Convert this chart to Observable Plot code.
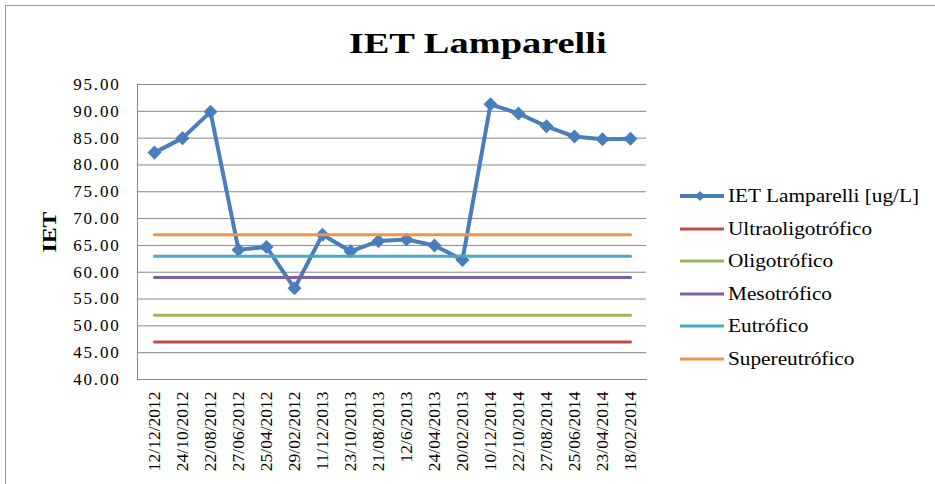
<!DOCTYPE html>
<html>
<head>
<meta charset="utf-8">
<script src="https://cdn.jsdelivr.net/npm/d3@7"></script>
<script src="https://cdn.jsdelivr.net/npm/@observablehq/plot@0.6"></script>
<style>
  html, body { margin: 0; padding: 0; background: #fff; overflow: hidden; }
  #wrap { position: relative; width: 935px; height: 484px; overflow: hidden; font-family: "Liberation Serif", serif; }
  #border { position: absolute; left: 5px; top: 5px; width: 1000px; height: 600px; border-left: 1.5px solid #9a9a9a; border-top: 1.5px solid #9a9a9a; }
  #chart { position: absolute; left: 0; top: 0; }
  #chart svg, #chart svg text { font-family: "Liberation Serif", serif !important; }
  #title { position: absolute; left: 0; width: 935px; top: 28px; text-align: center; font-size: 30px; line-height: 1; font-weight: bold; color: #000; }
  #title span { display: inline-block; transform: scaleX(1.28); transform-origin: 50% 50%; margin-left: 20px; }
  #ylabel { position: absolute; left: 50px; top: 232px; width: 0; height: 0; }
  #ylabel span { position: absolute; transform: translate(-50%, -50%) rotate(-90deg) scaleX(1.25); font-weight: bold; font-size: 19px; white-space: nowrap; color: #000; }
  #legend { position: absolute; left: 680px; top: 180px; }
  .row { display: flex; align-items: center; height: 32.5px; font-size: 19px; color: #000; }
  .row svg { flex: none; }
  .row span { display: inline-block; transform: scaleX(1.12); transform-origin: 0 50%; margin-left: 4px; white-space: nowrap; }
  [aria-label="y-axis tick label"] text { letter-spacing: 1.8px; }
</style>
</head>
<body>
<div id="wrap">
  <div id="border"></div>
  <div id="chart"></div>
  <div id="title"><span>IET Lamparelli</span></div>
  <div id="ylabel"><span>IET</span></div>
  <div id="legend"></div>
</div>
<script>
// ---- data ----
const dates = ["12/12/2012","24/10/2012","22/08/2012","27/06/2012","25/04/2012","29/02/2012",
  "11/12/2013","23/10/2013","21/08/2013","12/6/2013","24/04/2013","20/02/2013",
  "10/12/2014","22/10/2014","27/08/2014","25/06/2014","23/04/2014","18/02/2014"];
const ietValues = [82.3, 85.0, 89.9, 64.2, 64.7, 57.0, 67.0, 63.9, 65.8, 66.1, 65.0, 62.3,
  91.3, 89.6, 87.2, 85.3, 84.8, 84.9];
const mainSeriesName = "IET Lamparelli [ug/L]";
const levelNames = ["Ultraoligotrófico", "Oligotrófico", "Mesotrófico", "Eutrófico", "Supereutrófico"];
const levelValues = [47, 52, 59, 63, 67];
const yTicks = [40, 45, 50, 55, 60, 65, 70, 75, 80, 85, 90, 95];

const mainColor = "#4A7EBB";
const levelColors = ["#BE4B48", "#98B954", "#7D60A0", "#46AAC5", "#F69240"];
const fontFamily = "Liberation Serif";

// ---- tables built from the arrays ----
const mainData = dates.map((d, i) => ({date: d, value: ietValues[i]}));
const levelData = levelNames.flatMap((name, k) => dates.map(d => ({date: d, name, value: levelValues[k]})));

const chart = Plot.plot({
  width: 935,
  height: 484,
  marginLeft: 137,
  marginRight: 289,
  marginTop: 84,
  marginBottom: 105,
  style: {fontFamily: fontFamily, background: "transparent", color: "#000"},
  x: {type: "point", domain: dates, padding: 0.5},
  y: {domain: [40, 95]},
  color: {domain: levelNames, range: levelColors},
  marks: [
    Plot.gridY(yTicks, {stroke: "#878787", strokeOpacity: 1, strokeWidth: 1}),
    Plot.frame({anchor: "left", stroke: "#878787", strokeWidth: 1}),
    Plot.frame({anchor: "bottom", stroke: "#878787", strokeWidth: 1}),
    Plot.axisY({ticks: yTicks, tickFormat: d => d.toFixed(2), tickSize: 0, tickPadding: 17, fontSize: 17,
      fontFamily, fill: "#000", label: null}),
    Plot.axisX({tickSize: 0, tickRotate: -90, tickPadding: 12, fontSize: 17.5, fontFamily, fill: "#000", label: null}),
    Plot.line(mainData, {x: "date", y: "value", stroke: mainColor, strokeWidth: 4, strokeLinejoin: "round"}),
    Plot.dot(mainData, {x: "date", y: "value", symbol: "square", rotate: 45, r: 5.6, fill: mainColor, stroke: "none"}),
    Plot.line(levelData, {x: "date", y: "value", z: "name", stroke: "name", strokeWidth: 3, strokeLinecap: "round"})
  ]
});
document.getElementById("chart").appendChild(chart);

// ---- legend ----
const legend = document.getElementById("legend");
const entries = [{name: mainSeriesName, color: mainColor, marker: true}]
  .concat(levelNames.map((n, k) => ({name: n, color: levelColors[k], marker: false})));
for (const e of entries) {
  const row = document.createElement("div");
  row.className = "row";
  const w = e.marker ? 4 : 3;
  row.innerHTML = `<svg width="44" height="16"><line x1="0" y1="8" x2="44" y2="8" stroke="${e.color}" stroke-width="${w}" stroke-linecap="round"/>` +
    (e.marker ? `<rect x="16.5" y="4.5" width="7" height="7" fill="${e.color}" transform="rotate(45 20 8)"/>` : "") +
    `</svg><span>${e.name}</span>`;
  legend.appendChild(row);
}
</script>
</body>
</html>
